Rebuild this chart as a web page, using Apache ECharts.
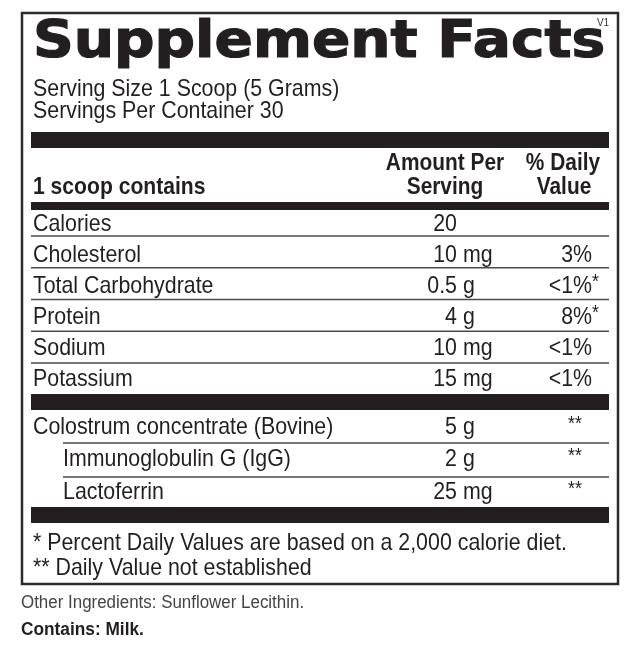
<!DOCTYPE html>
<html><head><meta charset="utf-8">
<script src="https://cdn.jsdelivr.net/npm/echarts@6/dist/echarts.min.js"></script>
<style>html,body{margin:0;padding:0;background:#fff}#c{width:642px;height:665px}</style>
</head><body><div id="c"></div><script>
// ---- data ----
const title = 'Supplement Facts';
const version = 'V1';
const servingInfo = ['Serving Size 1 Scoop (5 Grams)', 'Servings Per Container 30'];
const headerLabel = '1 scoop contains';
const amountHeader = ['Amount Per', 'Serving'];
const dvHeader = ['% Daily', 'Value'];
const nutrients = ['Calories', 'Cholesterol', 'Total Carbohydrate', 'Protein', 'Sodium', 'Potassium'];
const nutrientAmounts = ['20', '10 mg', '0.5 g', '4 g', '10 mg', '15 mg'];
const nutrientDV = ['', '3%', '<1%*', '8%*', '<1%', '<1%'];
const ingredients = ['Colostrum concentrate (Bovine)', 'Immunoglobulin G (IgG)', 'Lactoferrin'];
const ingredientLevels = [0, 1, 1];
const ingredientAmounts = ['5 g', '2 g', '25 mg'];
const ingredientDV = ['**', '**', '**'];
const footnotes = ['* Percent Daily Values are based on a 2,000 calorie diet.', '** Daily Value not established'];
const otherIngredients = 'Other Ingredients: Sunflower Lecithin.';
const allergens = 'Contains: Milk.';

// ---- layout ----
const L = 31, R = 609;
const BODY = 'Liberation Sans, Arial, sans-serif';
const INK = '#231f20';
const SX = 0.89;
const els = [];
function txt(t, x, y, o) {
  o = o || {};
  els.push({
    type: 'text', x: x, y: y, scaleX: o.sx == null ? SX : o.sx, z: 10,
    style: {
      text: t, fill: o.fill || INK,
      fontSize: o.size || 24, fontFamily: o.family || BODY, fontWeight: o.weight || 'normal',
      textAlign: o.align || 'left', align: o.align || 'left',
      textVerticalAlign: 'middle', verticalAlign: 'middle',
      stroke: o.stroke || null, lineWidth: o.lw || 0
    }
  });
}
function rect(x, y, w, h) {
  els.push({ type: 'rect', shape: { x: x, y: y, width: w, height: h }, style: { fill: INK } });
}
function hline(x1, x2, y, w) {
  els.push({ type: 'line', shape: { x1: x1, y1: y, x2: x2, y2: y }, style: { stroke: '#4a4a4a', lineWidth: w || 1.3 } });
}

// border
els.push({ type: 'rect', shape: { x: 22, y: 13, width: 596, height: 571 }, style: { fill: 'none', stroke: '#2b2b2b', lineWidth: 2.5 } });
// title
txt(title, 33, 44, { size: 51, family: 'DejaVu Sans, sans-serif', weight: 'bold', sx: 1.11, stroke: INK, lw: 1.2 });
txt(version, 603, 23, { size: 10, align: 'center', sx: 1, fill: '#333' });
// serving info
servingInfo.forEach((s, i) => txt(s, 33, 89.5 + i * 22));
rect(L, 132, R - L, 16);
// header
txt(amountHeader[0], 445, 163, { weight: 'bold', size: 24, align: 'center', sx: 0.87 });
txt(amountHeader[1], 445, 187, { weight: 'bold', size: 24, align: 'center', sx: 0.87 });
txt(dvHeader[0], 563, 163, { weight: 'bold', size: 24, align: 'center', sx: 0.87 });
txt(dvHeader[1], 564, 187, { weight: 'bold', size: 24, align: 'center', sx: 0.87 });
txt(headerLabel, 33, 187, { weight: 'bold', size: 24, sx: 0.88 });
rect(L, 202, R - L, 8);

function amountCell(a, y) {
  const parts = a.split(' ');
  txt(parts[0], 457, y, { align: 'right' });
  if (parts[1]) txt(parts[1], 463, y);
}
function dvCell(v, y) {
  if (!v) return;
  if (/^\*+$/.test(v)) { txt(v, 575, y - 3, { align: 'center', size: 20 }); return; }
  const m = v.match(/^(.*?)(\**)$/);
  txt(m[1], 592, y, { align: 'right' });
  if (m[2]) txt(m[2], 592, y - 4, { size: 20 });
}
// nutrient rows
nutrients.forEach((n, i) => {
  const y = 224 + i * 31.1;
  txt(n, 33, y);
  amountCell(nutrientAmounts[i], y);
  dvCell(nutrientDV[i], y);
  if (i < nutrients.length - 1) hline(L, R, 236 + i * 31.75);
});
rect(L, 394, R - L, 16);
// ingredient rows
ingredients.forEach((n, i) => {
  const y = 427 + i * 32.5;
  const x = 33 + ingredientLevels[i] * 30;
  txt(n, x, y);
  amountCell(ingredientAmounts[i], y);
  dvCell(ingredientDV[i], y);
  if (i < ingredients.length - 1) hline(63, R, 443 + i * 34);
});
rect(L, 507, R - L, 16);
footnotes.forEach((f, i) => txt(f, 33, 543.5 + i * 24.5));
txt(otherIngredients, 21, 603, { size: 18, fill: '#444', sx: 0.94 });
txt(allergens, 21, 630, { size: 18, weight: 'bold', sx: 0.96 });

const chart = echarts.init(document.getElementById('c'), null, { renderer: 'canvas' });
chart.setOption({ backgroundColor: '#fff', animation: false, graphic: { elements: els } });
</script></body></html>
